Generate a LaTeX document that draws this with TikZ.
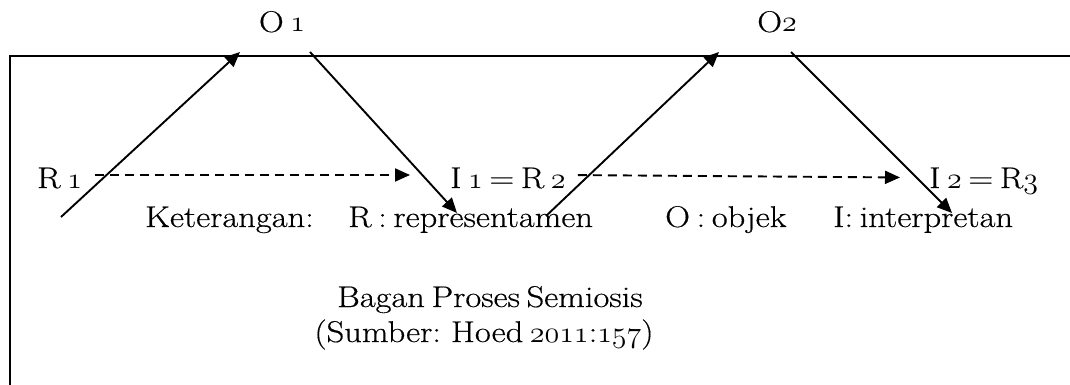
\RequirePackage{fix-cm}
\documentclass[tikz,border=0pt]{standalone}
\usepackage{fontspec}
\setmainfont{Latin Modern Roman}[FakeStretch=1.15,FakeBold=0.4]
\usetikzlibrary{arrows.meta,positioning}
\newcommand{\osn}[1]{\ensuremath{\mathnormal{#1}}}
\newcommand{\lblfont}{\fontsize{30}{35}\selectfont\spaceskip=.22em\relax}

\begin{document}
\begin{tikzpicture}[x=1pt,y=-1pt, lbl/.style={inner sep=0pt,anchor=base,font=\lblfont},lblw/.style={lbl,anchor=base west},arr/.style={-{Triangle[length=15pt,width=13pt]},line width=1.9pt},dasharr/.style={arr,dash pattern=on 9pt off 6pt},frame/.style={line width=1.9pt}]
\useasboundingbox (0,0) rectangle (1070,385);
\draw[frame] (10,392)--(10,56)--(1076,56);
% objek di atas
\node[lbl] (o1) at (282,32) {O \osn{1}};
\node[lbl] (o2) at (777,32) {O\osn{2}};
% representamen dan interpretan
\node[lblw] (r1) at (37,188) {R \osn{1}};
\node[lblw] (i1) at (450,188) {I \osn{1} = R \osn{2}};
\node[lblw] (i2) at (929,188) {I \osn{2} = R\osn{3}};
% keterangan
\node[lblw] (ket) at (145,227) {Keterangan:};
\node[lblw] (kr) at (348,227) {R : representamen};
\node[lblw] (ko) at (665,227) {O : objek};
\node[lblw] (ki) at (833,227) {I: interpretan};
\node[lbl] (cap1) at (490,307) {Bagan Proses Semiosis};
\node[lbl] (cap2) at (484,342) {(Sumber: Hoed \osn{2011}:\osn{157})};
% ujung panah
\coordinate (a1s) at (61,217);\coordinate (a1e) at (240,52);
\coordinate (a2s) at (310,52);\coordinate (a2e) at (457,213);
\coordinate (a3s) at (546,216);\coordinate (a3e) at (719,52);
\coordinate (a4s) at (791,52);\coordinate (a4e) at (952,213);
\draw[arr](a1s)--(a1e);\draw[arr](a2s)--(a2e);\draw[arr](a3s)--(a3e);\draw[arr](a4s)--(a4e);
\draw[dasharr,shorten <=13pt,shorten >=40pt]([yshift=3pt]r1.east)--([yshift=3pt]i1.west);
\draw[dasharr,shorten <=12pt,shorten >=29pt]([yshift=3pt]i1.east)--([yshift=3pt]i2.west);
\end{tikzpicture}
\end{document}
